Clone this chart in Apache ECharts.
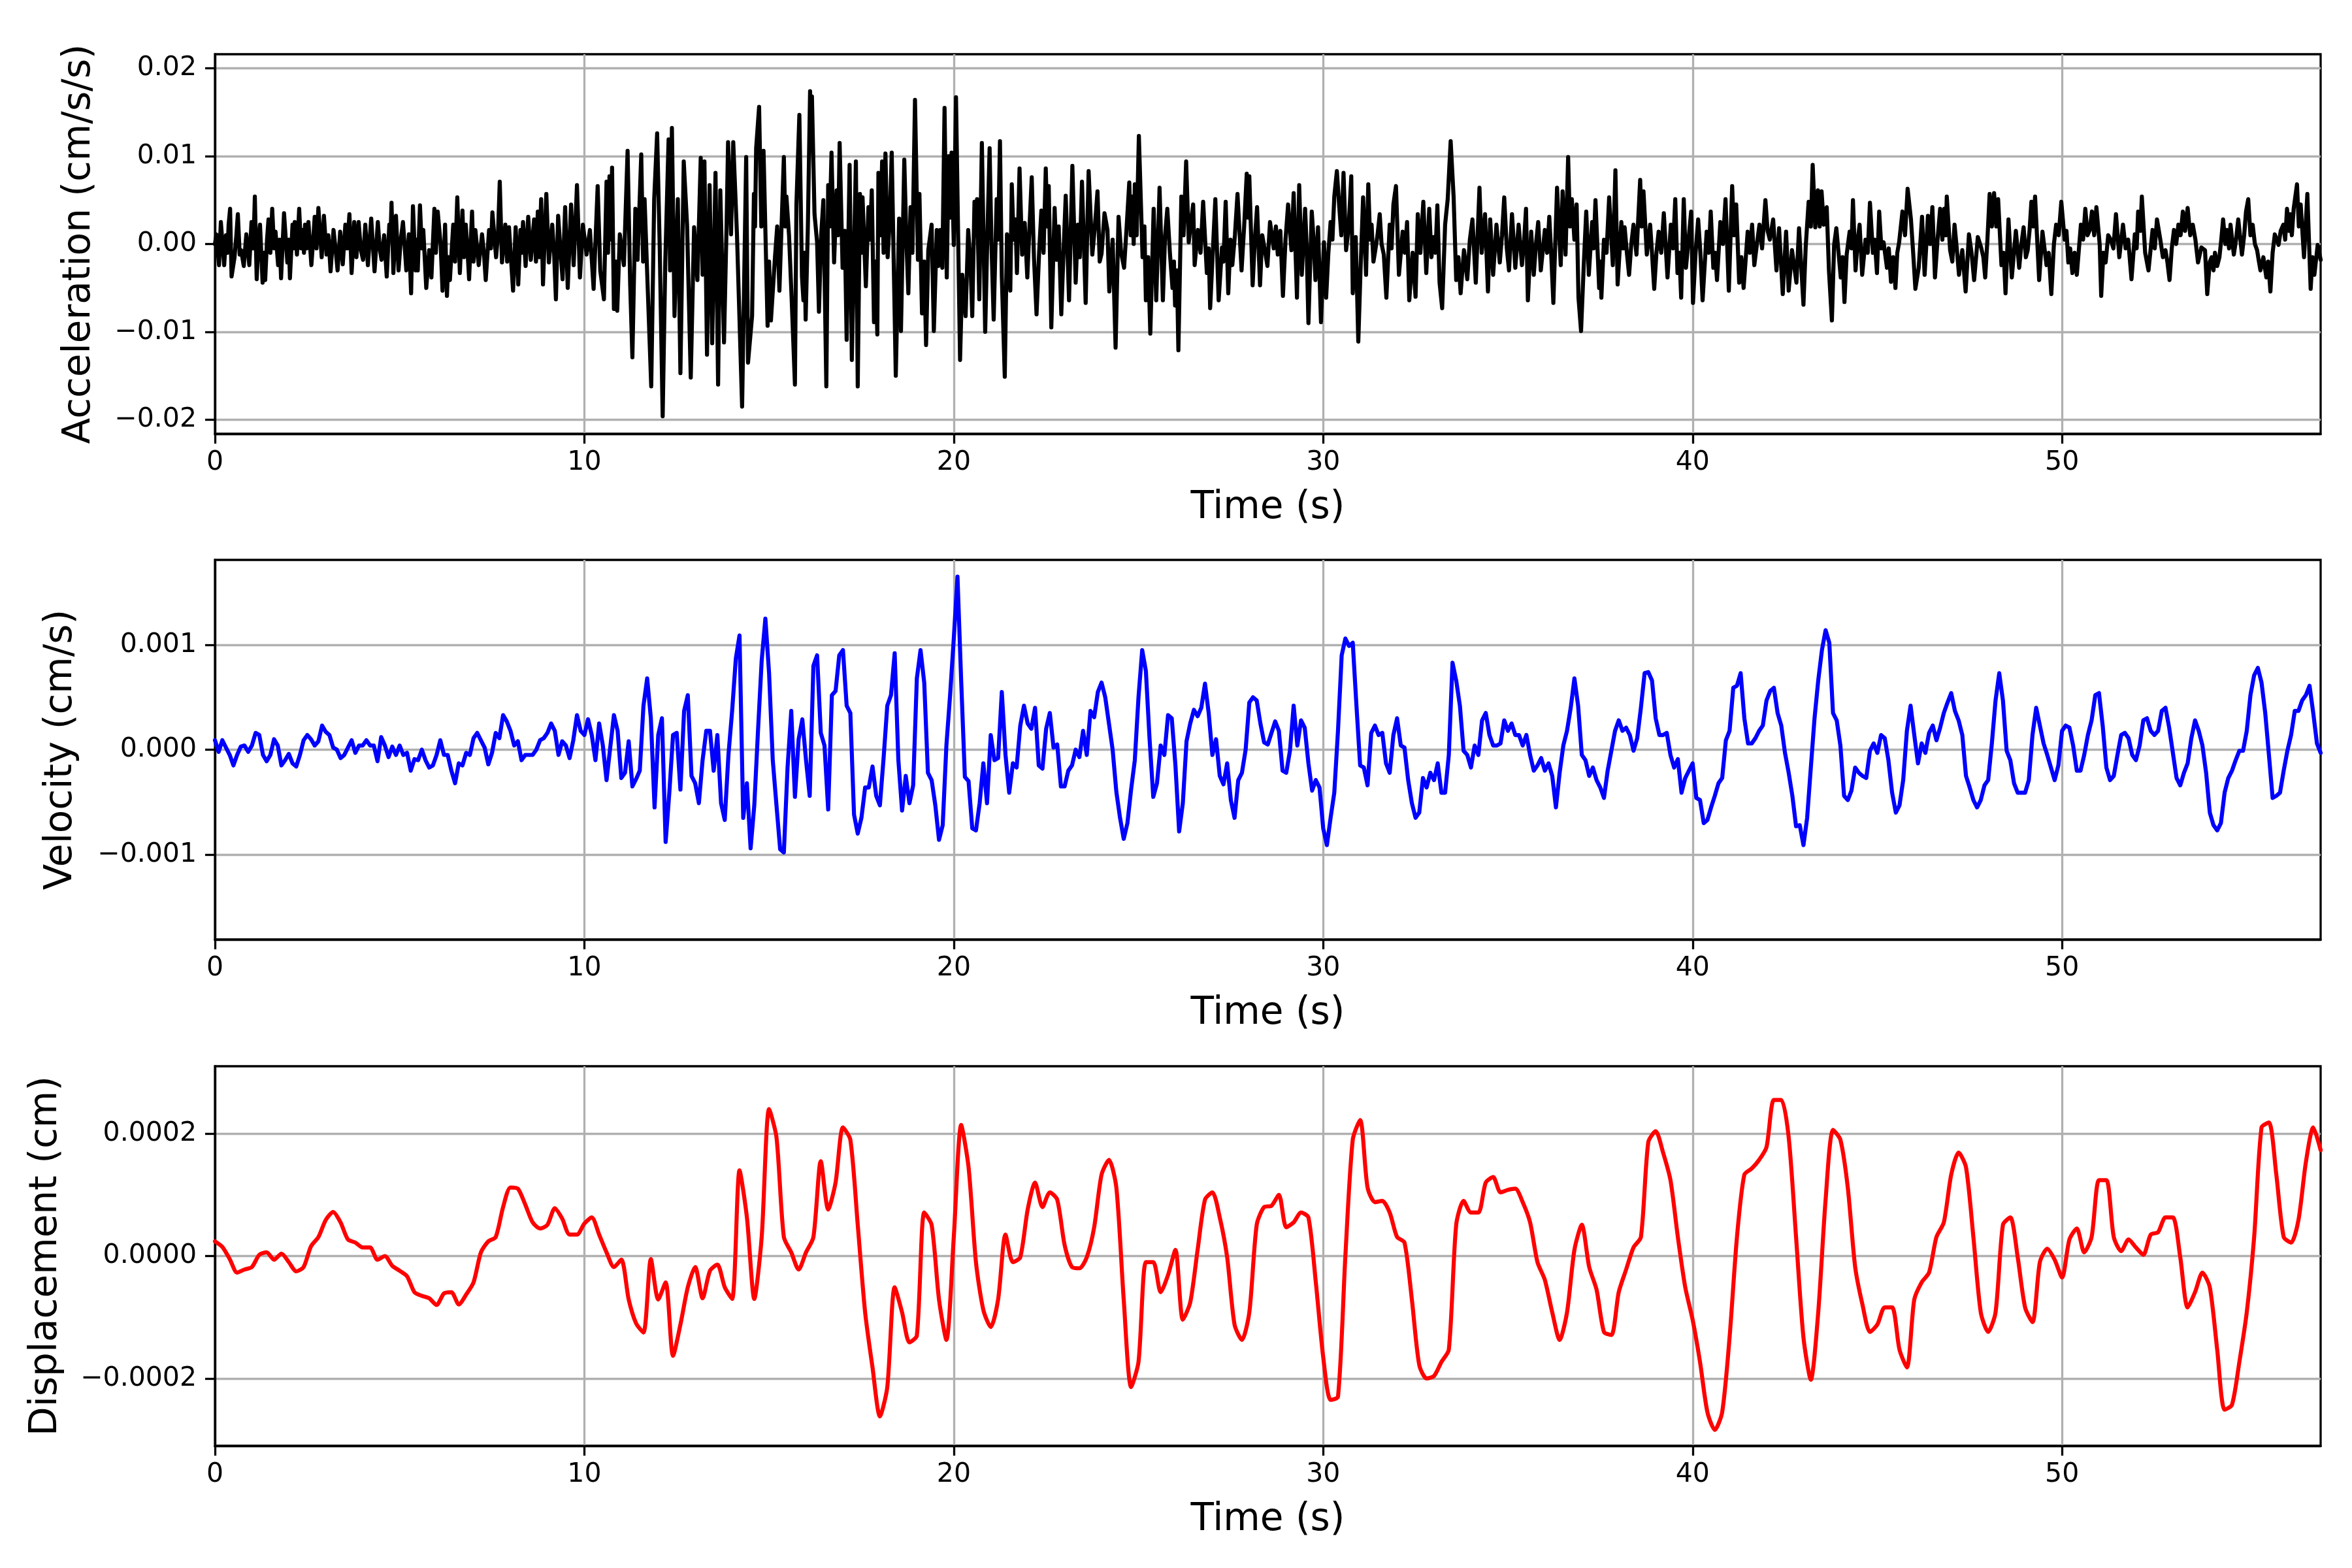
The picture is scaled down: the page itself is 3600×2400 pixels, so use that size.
<!DOCTYPE html>
<html>
<head>
<meta charset="utf-8">
<script src="https://cdn.jsdelivr.net/npm/echarts@6/dist/echarts.min.js"></script>
<style>
html,body{margin:0;padding:0;background:#fff;}
#chart{width:3600px;height:2400px;}
</style>
</head>
<body>
<div id="chart"></div>
<script>
// ---------- DATA ----------
// Units of the stored numbers:
const ACC_UNIT = 1e-3;   // acceleration values below are in 1e-3 cm/s/s
const VEL_UNIT = 1e-3;   // velocity values below are in 1e-3 cm/s
const DISP_UNIT = 1e-4;  // displacement values below are in 1e-4 cm
const VEL_DT = 0.1;      // velocity sample spacing (s)
const DISP_DT = 0.2;     // displacement sample spacing (s)

const timeTicks = [0, 10, 20, 30, 40, 50];
const accTicks = [-0.02, -0.01, 0, 0.01, 0.02];
const velTicks = [-0.001, 0, 0.001];
const dispTicks = [-0.0002, 0, 0.0002];

// acceleration: [time (s), value]
const accel = [
[0.00,0.0],[0.04,1.1],[0.11,-2.4],[0.16,2.5],[0.25,-2.4],[0.30,1.0],[0.34,-1.0],[0.37,2.2],[0.41,4.0],[0.45,-3.7],[0.53,-1.5],[0.58,1.0],[0.62,3.4],[0.67,-1.2],[0.71,-0.7],[0.78,-2.5],[0.85,1.1],[0.93,-2.4],[0.99,2.5],
[1.04,-0.5],[1.08,5.4],[1.13,-4.0],[1.18,0.5],[1.22,2.2],[1.29,-4.4],[1.33,-1.0],[1.36,-4.1],[1.41,0.5],[1.45,2.8],[1.50,-1.0],[1.55,4.0],[1.60,-0.5],[1.64,1.4],[1.71,-2.4],[1.75,0.5],[1.79,-3.9],[1.87,3.5],[1.96,-2.1],
[2.00,0.5],[2.03,-3.9],[2.10,2.2],[2.13,-0.5],[2.16,2.5],[2.22,-1.2],[2.28,4.0],[2.33,-0.5],[2.38,1.6],[2.41,-1.0],[2.44,2.2],[2.48,-0.5],[2.53,2.5],[2.61,-2.4],[2.66,0.5],[2.70,3.1],[2.75,-0.5],[2.80,4.1],[2.89,-1.5],[2.95,3.2],
[3.02,-1.2],[3.07,1.0],[3.13,-3.1],[3.21,1.6],[3.27,-0.8],[3.32,-3.0],[3.39,1.4],[3.46,-2.3],[3.53,2.2],[3.58,-0.5],[3.64,3.4],[3.70,-3.3],[3.77,2.5],[3.83,-1.5],[3.89,2.5],[3.95,-0.7],
[4.01,-1.8],[4.07,2.2],[4.14,-2.4],[4.23,2.9],[4.32,-3.1],[4.41,2.5],[4.46,-0.5],[4.51,-1.8],[4.58,1.0],[4.65,-3.7],[4.72,2.2],[4.75,0.5],[4.78,4.7],[4.83,-3.3],[4.90,3.2],[4.97,-3.0],
[5.03,0.5],[5.09,2.5],[5.14,-0.5],[5.18,-3.0],[5.25,1.1],[5.31,-5.6],[5.36,4.3],[5.43,-3.0],[5.46,0.5],[5.49,-3.0],[5.55,4.4],[5.60,-0.5],[5.64,1.6],[5.72,-5.0],[5.80,-0.7],[5.86,-3.8],[5.94,4.0],[5.98,-1.0],
[6.03,3.7],[6.11,-0.1],[6.16,-5.3],[6.23,2.2],[6.28,-5.9],[6.32,-1.5],[6.36,-4.1],[6.45,2.2],[6.50,-2.0],[6.56,5.3],[6.63,-3.3],[6.70,3.8],[6.74,-1.5],[6.79,2.2],[6.84,-1.0],[6.88,-4.0],[6.96,3.7],
[7.00,-2.0],[7.05,1.6],[7.14,-2.4],[7.23,1.1],[7.28,-1.0],[7.33,-4.1],[7.42,1.6],[7.47,-0.5],[7.51,3.6],[7.61,-1.5],[7.66,1.0],[7.71,7.1],[7.77,-2.1],[7.86,2.2],[7.91,-2.0],[7.96,1.9],
[8.02,-2.1],[8.07,-5.3],[8.14,1.9],[8.21,-4.6],[8.27,1.6],[8.30,-1.0],[8.34,2.5],[8.41,-2.5],[8.48,3.1],[8.55,-1.8],[8.64,2.8],[8.69,-2.0],[8.74,3.7],[8.78,-1.5],[8.83,5.1],[8.88,-4.6],[8.97,5.7],
[9.04,-2.1],[9.13,2.2],[9.18,-1.0],[9.23,-6.3],[9.29,3.2],[9.35,-0.5],[9.41,-4.0],[9.48,4.2],[9.55,-5.0],[9.64,4.5],[9.71,-2.4],[9.80,6.7],[9.88,-3.8],[9.96,2.2],
[10.06,-1.2],[10.15,1.6],[10.25,-5.1],[10.36,6.6],[10.43,-3.0],[10.53,-6.3],[10.60,7.1],[10.64,-1.0],[10.68,7.7],[10.72,0.5],[10.75,8.7],[10.80,-7.4],[10.85,-2.0],[10.89,-7.6],[10.96,1.1],
[11.07,-2.4],[11.17,10.6],[11.24,-4.6],[11.30,-12.9],[11.38,4.0],[11.44,-1.8],[11.54,10.2],[11.59,-2.0],[11.63,5.1],[11.72,-5.6],[11.81,-16.2],[11.89,5.1],[11.97,12.6],
[12.04,-0.4],[12.12,-19.6],[12.19,-2.1],[12.28,11.9],[12.32,-3.0],[12.37,13.2],[12.44,-8.2],[12.53,5.1],[12.60,-14.7],[12.69,9.4],[12.78,2.2],[12.88,-15.2],[12.97,1.9],
[13.06,-4.1],[13.15,9.8],[13.20,-3.5],[13.25,9.4],[13.32,-12.6],[13.39,6.7],[13.46,-11.3],[13.55,8.1],[13.62,-16.0],[13.68,6.1],[13.78,-11.2],[13.85,2.2],[13.89,11.6],[13.97,1.1],
[14.03,11.6],[14.13,1.2],[14.27,-18.5],[14.38,9.9],[14.43,-13.5],[14.54,-8.2],[14.59,5.7],[14.62,2.0],[14.65,10.9],[14.73,15.6],[14.79,2.0],[14.85,10.6],[14.96,-9.3],
[15.00,-2.0],[15.05,-8.7],[15.16,-1.5],[15.22,2.0],[15.28,-5.3],[15.40,9.9],[15.44,2.0],[15.47,5.4],[15.54,1.0],[15.61,-6.1],[15.70,-16.0],[15.74,4.5],[15.82,14.7],[15.89,-3.7],[15.93,-6.4],[15.96,-1.0],[15.99,-8.6],
[16.05,2.0],[16.11,17.4],[16.14,12.0],[16.16,16.8],[16.23,3.4],[16.30,0.2],[16.35,-7.7],[16.41,1.0],[16.47,5.0],[16.55,-16.2],[16.60,6.7],[16.64,2.0],[16.69,10.4],[16.76,-2.1],[16.83,6.1],[16.87,1.0],[16.91,11.5],[16.99,-2.7],
[17.05,1.5],[17.10,-10.9],[17.18,9.0],[17.24,-13.2],[17.35,9.4],[17.40,-16.2],[17.46,5.7],[17.50,-1.0],[17.53,5.3],[17.62,-4.8],[17.69,4.2],[17.73,0.5],[17.78,6.1],[17.84,-8.9],[17.88,-2.0],[17.93,-10.3],[17.96,8.1],
[18.01,1.0],[18.06,9.4],[18.10,-1.0],[18.15,10.3],[18.21,-1.5],[18.27,3.0],[18.32,10.4],[18.43,-15.0],[18.52,2.9],[18.57,-9.9],[18.66,9.6],[18.72,0.0],[18.77,-5.6],[18.83,4.2],[18.88,-1.0],[18.95,16.4],
[19.03,-1.8],[19.07,5.7],[19.14,-7.9],[19.20,-2.0],[19.25,-11.5],[19.31,-0.7],[19.40,2.2],[19.46,-9.9],[19.54,1.6],[19.58,-2.5],[19.63,1.6],[19.69,-2.7],[19.75,15.5],[19.81,-3.8],[19.86,10.0],[19.90,3.0],[19.94,10.4],
[20.00,-0.1],[20.06,16.7],[20.17,-13.2],[20.23,-3.5],[20.32,-8.2],[20.39,1.6],[20.45,-2.0],[20.50,-8.2],[20.56,4.8],[20.60,1.0],[20.63,5.1],[20.69,-6.3],[20.76,11.5],[20.85,-10.0],[20.91,1.0],[20.97,10.9],
[21.02,0.0],[21.08,-8.6],[21.16,5.1],[21.20,0.5],[21.25,11.7],[21.30,-3.7],[21.38,-15.1],[21.44,1.1],[21.53,-5.3],[21.57,6.8],[21.62,0.5],[21.67,2.8],[21.71,-3.3],[21.78,8.6],[21.85,-1.2],[21.92,2.4],[21.99,-3.8],
[22.05,2.0],[22.11,7.6],[22.17,-1.5],[22.24,-8.0],[22.31,-1.0],[22.37,3.8],[22.43,-1.0],[22.49,8.6],[22.53,2.0],[22.57,6.6],[22.64,-9.5],[22.73,4.1],[22.78,-1.8],[22.84,2.0],[22.91,-8.0],[22.97,-1.0],
[23.03,5.5],[23.12,-6.4],[23.21,8.9],[23.30,-4.4],[23.36,2.2],[23.41,-1.5],[23.47,7.1],[23.57,-6.7],[23.65,8.3],[23.75,-1.2],[23.82,2.0],[23.89,6.0],[23.95,-2.0],
[24.00,-1.1],[24.08,3.5],[24.16,1.6],[24.21,-5.4],[24.30,0.5],[24.38,-11.8],[24.46,3.1],[24.53,-1.0],[24.61,-2.7],[24.68,2.0],[24.75,7.0],[24.79,1.0],[24.83,5.4],[24.87,0.0],[24.90,6.8],[24.95,1.0],
[25.01,12.3],[25.11,-1.5],[25.16,2.0],[25.20,-6.4],[25.26,-1.5],[25.32,-10.2],[25.41,4.0],[25.48,-6.4],[25.57,6.4],[25.66,-6.4],[25.72,1.0],[25.78,4.0],[25.85,-1.0],[25.92,-5.0],[25.96,-2.0],[25.99,-7.0],
[26.04,-3.0],[26.08,-12.1],[26.16,5.4],[26.22,1.0],[26.29,9.4],[26.36,0.2],[26.42,2.5],[26.48,4.5],[26.52,-2.4],[26.61,1.6],[26.68,-1.0],[26.75,4.8],[26.85,-3.3],[26.90,-0.5],[26.94,-7.3],
[27.01,-1.0],[27.08,5.1],[27.17,-6.4],[27.26,-0.4],[27.30,-2.0],[27.36,4.8],[27.43,-5.6],[27.49,0.5],[27.54,-2.4],[27.61,1.0],[27.68,5.7],[27.79,-3.0],[27.86,2.0],[27.93,8.0],[27.96,3.0],
[28.00,7.7],[28.09,-4.7],[28.15,0.5],[28.21,4.2],[28.29,-4.7],[28.35,1.0],[28.42,-0.7],[28.49,-2.5],[28.56,2.5],[28.66,-0.5],[28.72,2.0],[28.77,-1.2],[28.84,1.5],[28.91,-5.9],[28.98,0.5],
[29.05,4.5],[29.14,-0.7],[29.20,5.8],[29.29,-6.1],[29.35,6.7],[29.42,-3.5],[29.51,4.0],[29.55,0.0],[29.60,-9.0],[29.69,3.7],[29.74,0.5],[29.79,-4.1],[29.86,1.9],[29.94,-8.9],
[30.02,0.2],[30.08,-6.1],[30.14,-1.0],[30.20,2.5],[30.25,0.5],[30.30,5.4],[30.37,8.3],[30.43,4.5],[30.49,1.0],[30.55,8.1],[30.62,-0.7],[30.69,2.0],[30.76,7.7],[30.80,-5.6],[30.88,0.8],[30.95,-11.1],
[31.01,-3.0],[31.08,5.3],[31.16,-3.5],[31.22,6.8],[31.27,0.5],[31.31,2.2],[31.36,-2.0],[31.41,-0.7],[31.47,1.0],[31.53,3.4],[31.58,0.0],[31.64,-1.2],[31.71,-6.1],[31.80,2.2],[31.85,-0.5],[31.90,4.5],[31.97,6.6],
[32.05,-3.5],[32.15,1.4],[32.21,-1.0],[32.27,2.5],[32.33,-6.4],[32.42,-1.0],[32.50,-6.0],[32.56,3.4],[32.63,-1.0],[32.71,4.8],[32.79,-3.3],[32.87,4.0],[32.93,-1.5],[32.99,0.8],
[33.04,-1.0],[33.09,4.4],[33.15,-4.4],[33.22,-7.3],[33.30,2.2],[33.37,5.1],[33.45,11.7],[33.53,5.4],[33.60,-4.1],[33.66,-1.5],[33.72,-5.6],[33.81,-0.7],[33.90,-4.0],[33.97,0.5],
[34.04,2.8],[34.13,-4.4],[34.23,6.4],[34.29,-1.0],[34.38,3.4],[34.46,-5.4],[34.52,2.8],[34.60,-3.5],[34.69,2.2],[34.78,-2.1],[34.84,1.0],[34.90,5.3],[34.97,-0.5],
[35.03,-3.0],[35.11,3.4],[35.20,-2.7],[35.29,2.2],[35.38,-2.4],[35.44,0.5],[35.49,4.0],[35.54,-6.4],[35.63,1.4],[35.70,-3.5],[35.76,0.0],[35.82,2.5],[35.89,-3.0],[35.95,-0.5],
[36.00,1.6],[36.06,-1.0],[36.12,3.1],[36.17,-1.0],[36.23,-6.7],[36.33,6.4],[36.43,-2.4],[36.48,6.0],[36.56,-1.2],[36.63,9.9],[36.68,2.0],[36.73,5.1],[36.80,0.5],[36.86,4.5],[36.91,-6.1],[36.98,-9.9],
[37.05,-2.7],[37.12,3.7],[37.19,-3.5],[37.28,2.5],[37.32,-0.5],[37.37,5.0],[37.47,-5.0],[37.50,-2.0],[37.53,-6.1],[37.60,0.5],[37.67,-1.0],[37.74,5.3],[37.84,-2.4],[37.91,8.4],[37.97,-4.6],
[38.07,2.5],[38.12,-0.5],[38.16,1.9],[38.22,-1.0],[38.28,-3.5],[38.34,0.0],[38.40,2.2],[38.48,-1.2],[38.58,7.3],[38.62,2.0],[38.67,6.0],[38.76,-1.2],[38.85,2.2],[38.90,-1.0],[38.96,-5.1],
[39.02,-1.0],[39.08,1.4],[39.15,-1.0],[39.22,3.5],[39.32,-3.8],[39.41,2.2],[39.47,-0.5],[39.53,5.1],[39.59,-3.3],[39.64,-1.0],[39.69,-6.1],[39.76,5.1],[39.82,-2.7],[39.89,0.5],[39.96,3.7],
[40.01,-6.7],[40.08,-1.0],[40.15,2.8],[40.21,-1.0],[40.27,-6.4],[40.38,1.4],[40.44,-1.0],[40.49,3.7],[40.56,-2.7],[40.61,-1.0],[40.66,-4.1],[40.75,2.5],[40.82,0.0],[40.89,5.1],[40.98,-5.3],
[41.07,6.6],[41.12,1.0],[41.18,4.5],[41.26,-4.4],[41.32,-1.5],[41.38,-5.0],[41.49,1.4],[41.55,-1.0],[41.61,2.2],[41.67,-2.4],[41.74,0.0],[41.81,2.2],[41.88,-0.5],[41.97,5.0],
[42.03,1.5],[42.09,0.5],[42.18,2.8],[42.27,-3.0],[42.34,1.8],[42.44,-5.7],[42.53,1.4],[42.60,-5.3],[42.69,-0.7],[42.81,-4.4],[42.88,1.8],
[43.00,-6.9],[43.06,-0.4],[43.14,4.8],[43.20,2.0],[43.25,9.0],[43.32,1.9],[43.39,6.1],[43.44,2.0],[43.49,6.0],[43.55,2.2],[43.63,4.2],[43.69,-3.0],[43.77,-8.7],[43.83,-0.1],[43.89,1.8],[43.95,-1.0],
[44.01,-3.8],[44.06,-1.5],[44.11,-6.6],[44.17,-1.2],[44.25,1.4],[44.30,-0.5],[44.34,5.0],[44.41,-3.0],[44.47,0.5],[44.52,2.2],[44.59,-3.5],[44.68,0.5],[44.74,-1.0],[44.80,4.7],[44.88,-1.0],[44.93,0.5],[44.99,-3.3],
[45.05,3.7],[45.11,-0.5],[45.17,0.2],[45.26,-2.7],[45.31,-0.5],[45.37,-4.3],[45.43,-1.5],[45.49,-5.0],[45.54,-1.0],[45.59,0.2],[45.68,3.7],[45.75,1.0],[45.82,6.3],[45.91,2.8],[45.97,-1.0],
[46.03,-5.1],[46.12,-2.7],[46.21,3.1],[46.28,-3.5],[46.37,3.2],[46.43,0.0],[46.49,4.2],[46.56,-3.8],[46.63,0.5],[46.70,4.0],[46.76,0.5],[46.81,4.0],[46.85,1.0],[46.88,5.4],[46.97,-0.7],
[47.03,-2.0],[47.09,2.2],[47.15,-0.5],[47.21,-3.5],[47.30,-0.7],[47.39,-5.4],[47.48,1.1],[47.55,-1.0],[47.62,-4.1],[47.72,0.8],[47.81,-0.4],[47.87,-1.5],[47.92,-3.8],[47.98,0.5],
[48.04,5.7],[48.10,2.0],[48.16,5.8],[48.22,2.0],[48.27,5.1],[48.36,-2.4],[48.42,-1.0],[48.47,-5.6],[48.55,2.8],[48.64,-3.8],[48.75,1.5],[48.84,-2.7],[48.90,0.0],[48.96,1.9],
[49.02,-1.5],[49.07,-0.7],[49.12,1.5],[49.17,4.8],[49.22,2.0],[49.27,5.4],[49.38,-4.1],[49.47,1.4],[49.58,-2.4],[49.64,-1.0],[49.71,-5.7],[49.78,0.0],[49.84,2.2],[49.91,1.0],[49.98,4.8],
[50.07,0.5],[50.12,1.5],[50.17,-2.1],[50.22,-0.5],[50.28,-3.3],[50.34,-1.0],[50.40,-3.5],[50.51,2.2],[50.57,0.5],[50.63,4.0],[50.69,1.0],[50.75,1.6],[50.81,3.7],[50.87,1.0],[50.93,4.2],
[51.02,-0.1],[51.06,-5.9],[51.12,-1.0],[51.18,-2.1],[51.25,1.0],[51.32,0.5],[51.39,-0.5],[51.46,3.4],[51.55,-1.5],[51.65,2.2],[51.72,-0.5],[51.79,0.5],[51.88,-4.0],[51.97,1.1],
[52.02,-0.5],[52.06,3.7],[52.12,1.5],[52.16,5.4],[52.25,-1.0],[52.34,-3.0],[52.40,-0.5],[52.45,1.6],[52.51,-0.5],[52.57,2.8],[52.66,0.5],[52.73,-1.5],[52.80,-0.7],[52.85,-2.0],[52.91,-4.1],[52.97,-0.5],
[53.03,1.6],[53.09,0.0],[53.15,2.2],[53.21,1.0],[53.27,3.7],[53.33,1.5],[53.40,4.1],[53.47,1.0],[53.54,2.2],[53.61,0.5],[53.68,-2.1],[53.77,-0.4],[53.87,-0.7],[53.93,-5.7],
[54.00,-2.0],[54.05,-1.5],[54.10,-3.0],[54.14,-1.0],[54.20,-2.5],[54.26,-1.5],[54.31,0.5],[54.36,2.8],[54.42,0.0],[54.47,1.6],[54.52,-0.5],[54.56,2.2],[54.65,-1.2],[54.71,0.5],[54.77,2.8],[54.87,-1.2],[54.93,1.0],[54.98,3.7],
[55.04,5.1],[55.10,1.0],[55.16,2.2],[55.22,0.0],[55.28,-0.7],[55.33,-2.0],[55.37,-3.0],[55.45,-1.5],[55.53,-3.8],[55.58,-2.0],[55.64,-5.4],[55.70,-1.0],[55.76,1.1],[55.86,-0.1],[55.92,1.5],[55.99,2.2],
[56.04,0.5],[56.09,4.0],[56.14,1.5],[56.18,3.4],[56.22,1.0],[56.27,4.0],[56.36,6.8],[56.41,2.0],[56.46,4.5],[56.55,-1.5],[56.64,5.7],[56.73,-5.1],[56.78,-1.5],[56.83,-3.5],[56.92,-0.1],[57.00,-1.8]
];

// velocity, one value every VEL_DT seconds from t = 0 (one row per second)
const velocity = [
0.09,-0.02,0.09,0.02,-0.05,-0.15,-0.05,0.03,0.04,-0.02,
0.04,0.16,0.14,-0.05,-0.11,-0.05,0.10,0.04,-0.15,-0.10,
-0.04,-0.13,-0.16,-0.05,0.09,0.14,0.10,0.04,0.08,0.23,
0.17,0.14,0.02,0.00,-0.08,-0.05,0.02,0.09,-0.03,0.04,
0.04,0.09,0.04,0.04,-0.11,0.12,0.04,-0.07,0.03,-0.05,
0.04,-0.05,-0.03,-0.20,-0.09,-0.10,0.00,-0.10,-0.17,-0.15,
-0.05,0.09,-0.05,-0.05,-0.20,-0.32,-0.13,-0.15,-0.03,-0.05,
0.11,0.16,0.09,0.02,-0.14,-0.03,0.16,0.11,0.33,0.27,
0.18,0.04,0.08,-0.10,-0.05,-0.05,-0.05,0.00,0.09,0.11,
0.16,0.25,0.18,-0.05,0.08,0.04,-0.08,0.09,0.33,0.18,
0.14,0.29,0.14,-0.10,0.25,0.04,-0.29,0.02,0.33,0.18,
-0.27,-0.22,0.08,-0.35,-0.28,-0.20,0.42,0.68,0.30,-0.55,
0.14,0.30,-0.88,-0.41,0.14,0.16,-0.38,0.37,0.52,-0.25,
-0.32,-0.51,-0.10,0.18,0.18,-0.20,0.14,-0.51,-0.67,-0.05,
0.37,0.87,1.09,-0.65,-0.32,-0.94,-0.53,0.18,0.85,1.25,
0.73,-0.10,-0.53,-0.95,-0.98,-0.17,0.37,-0.45,0.10,0.29,
-0.10,-0.44,0.80,0.90,0.16,0.04,-0.57,0.52,0.56,0.90,
0.95,0.42,0.35,-0.62,-0.80,-0.65,-0.36,-0.36,-0.16,-0.44,
-0.53,-0.08,0.42,0.52,0.92,-0.10,-0.58,-0.25,-0.51,-0.34,
0.68,0.95,0.64,-0.22,-0.29,-0.53,-0.86,-0.72,0.04,0.52,
1.06,1.65,0.66,-0.26,-0.30,-0.75,-0.77,-0.51,-0.13,-0.51,
0.14,-0.10,-0.08,0.55,-0.05,-0.41,-0.13,-0.17,0.23,0.42,
0.25,0.20,0.40,-0.15,-0.18,0.20,0.35,0.02,0.05,-0.35,
-0.35,-0.20,-0.15,0.00,-0.07,0.18,-0.05,0.37,0.31,0.55,
0.64,0.50,0.25,0.00,-0.40,-0.65,-0.85,-0.70,-0.38,-0.10,
0.50,0.95,0.75,0.10,-0.45,-0.32,0.04,-0.05,0.33,0.30,
-0.15,-0.78,-0.51,0.08,0.25,0.38,0.32,0.40,0.63,0.35,
-0.05,0.10,-0.25,-0.33,-0.13,-0.48,-0.65,-0.29,-0.22,0.00,
0.45,0.50,0.47,0.25,0.07,0.05,0.16,0.27,0.18,-0.20,
-0.22,-0.01,0.42,0.04,0.28,0.21,-0.13,-0.39,-0.29,-0.36,
-0.75,-0.91,-0.65,-0.41,0.18,0.90,1.06,0.99,1.02,0.42,
-0.15,-0.17,-0.34,0.16,0.23,0.14,0.16,-0.13,-0.22,0.14,
0.30,0.04,0.02,-0.29,-0.51,-0.65,-0.60,-0.27,-0.36,-0.22,
-0.29,-0.13,-0.41,-0.41,-0.05,0.83,0.66,0.42,-0.01,-0.05,
-0.17,0.04,-0.05,0.28,0.35,0.14,0.04,0.04,0.06,0.28,
0.18,0.25,0.14,0.14,0.04,0.14,-0.05,-0.20,-0.15,-0.08,
-0.20,-0.13,-0.25,-0.55,-0.22,0.04,0.18,0.40,0.68,0.42,
-0.05,-0.10,-0.25,-0.17,-0.29,-0.36,-0.46,-0.20,-0.01,0.18,
0.28,0.18,0.21,0.14,-0.01,0.11,0.40,0.73,0.74,0.66,
0.30,0.14,0.14,0.16,-0.05,-0.17,-0.09,-0.41,-0.27,-0.20,
-0.13,-0.46,-0.48,-0.70,-0.67,-0.55,-0.44,-0.32,-0.27,0.09,
0.18,0.59,0.61,0.73,0.30,0.06,0.06,0.11,0.18,0.23,
0.47,0.56,0.59,0.35,0.23,-0.03,-0.22,-0.44,-0.73,-0.72,
-0.91,-0.65,-0.17,0.30,0.66,0.95,1.14,1.02,0.35,0.28,
0.04,-0.44,-0.48,-0.39,-0.17,-0.22,-0.25,-0.27,-0.01,0.06,
-0.03,0.14,0.11,-0.10,-0.41,-0.60,-0.53,-0.29,0.18,0.42,
0.14,-0.13,0.06,-0.03,0.16,0.23,0.09,0.21,0.35,0.45,
0.54,0.37,0.28,0.14,-0.25,-0.36,-0.48,-0.55,-0.48,-0.34,
-0.29,0.06,0.47,0.73,0.47,-0.01,-0.10,-0.32,-0.41,-0.41,
-0.41,-0.29,0.14,0.40,0.23,0.06,-0.05,-0.17,-0.29,-0.15,
0.18,0.23,0.21,0.04,-0.20,-0.20,-0.05,0.14,0.28,0.52,
0.54,0.23,-0.17,-0.29,-0.25,-0.05,0.14,0.16,0.11,-0.05,
-0.10,0.04,0.28,0.30,0.18,0.14,0.18,0.37,0.40,0.21,
-0.03,-0.27,-0.34,-0.22,-0.13,0.11,0.28,0.18,0.04,-0.22,
-0.60,-0.72,-0.77,-0.70,-0.41,-0.27,-0.20,-0.10,-0.01,-0.01,
0.18,0.52,0.71,0.78,0.64,0.35,-0.05,-0.46,-0.44,-0.41,
-0.20,-0.01,0.14,0.37,0.37,0.47,0.52,0.61,0.35,0.06,
-0.03
];

// displacement, one value every DISP_DT seconds from t = 0 (one row per second)
const displacement = [
0.24,0.15,-0.05,-0.27,-0.22,
-0.18,0.02,0.06,-0.06,0.04,
-0.10,-0.25,-0.18,0.16,0.31,
0.59,0.72,0.55,0.27,0.22,
0.14,0.14,-0.06,0.00,-0.16,
-0.24,-0.33,-0.59,-0.65,-0.69,
-0.80,-0.61,-0.59,-0.79,-0.63,
-0.43,0.06,0.24,0.31,0.80,
1.12,1.10,0.84,0.55,0.45,
0.51,0.78,0.61,0.35,0.35,
0.53,0.63,0.35,0.06,-0.18,
-0.06,-0.71,-1.10,-1.25,-0.05,
-0.71,-0.43,-1.63,-1.12,-0.51,
-0.18,-0.69,-0.24,-0.14,-0.51,
-0.70,1.40,0.63,-0.70,0.31,
2.40,1.94,0.31,0.06,-0.22,
0.06,0.31,1.55,0.76,1.20,
2.10,1.90,0.51,-0.92,-1.82,
-2.62,-2.14,-0.51,-0.92,-1.41,
-1.30,0.71,0.51,-0.71,-1.37,
0.31,2.14,1.45,-0.10,-0.88,
-1.16,-0.71,0.35,-0.10,-0.02,
0.76,1.20,0.80,1.04,0.92,
0.18,-0.18,-0.20,-0.02,0.47,
1.33,1.57,1.12,-0.71,-2.14,
-1.73,-0.10,-0.10,-0.59,-0.31,
0.10,-1.04,-0.76,0.10,0.92,
1.04,0.63,-0.02,-1.12,-1.37,
-0.92,0.51,0.80,0.82,1.00,
0.47,0.55,0.71,0.63,-0.43,
-1.65,-2.35,-2.30,0.00,1.90,
2.22,1.12,0.88,0.90,0.71,
0.31,0.22,-0.71,-1.78,-2.00,
-1.96,-1.73,-1.53,0.51,0.90,
0.71,0.71,1.20,1.29,1.04,
1.08,1.10,0.88,0.55,-0.10,
-0.39,-0.92,-1.37,-0.92,0.10,
0.51,-0.18,-0.55,-1.24,-1.29,
-0.59,-0.22,0.14,0.31,1.86,
2.04,1.69,1.24,0.31,-0.51,
-1.04,-1.73,-2.55,-2.84,-2.55,
-1.33,0.31,1.33,1.43,1.57,
1.78,2.55,2.55,1.94,0.31,
-1.33,-2.02,-0.92,0.92,2.06,
1.90,1.12,-0.18,-0.80,-1.24,
-1.12,-0.84,-0.84,-1.53,-1.82,
-0.71,-0.43,-0.27,0.31,0.55,
1.33,1.69,1.45,0.31,-0.92,
-1.24,-0.92,0.51,0.63,-0.02,
-0.84,-1.08,-0.10,0.12,-0.06,
-0.35,0.27,0.45,0.06,0.31,
1.24,1.24,0.31,0.08,0.27,
0.14,0.02,0.35,0.39,0.63,
0.63,-0.02,-0.84,-0.59,-0.27,
-0.51,-1.53,-2.51,-2.43,-1.73,
-0.92,0.31,2.10,2.18,1.33,
0.31,0.22,0.59,1.53,2.10,
1.73
];

// ---------- CHART ----------
const FONT = 'DejaVu Sans';
const MINUS = '\u2212';
function fmt(d) {
  return function (v) {
    const s = Math.abs(v).toFixed(d);
    return (v < -1e-12 ? MINUS : '') + s;
  };
}

const panels = [
  { top: 83, yMin: -0.0216, yMax: 0.0216, ticks: accTicks, dec: 2, name: 'Acceleration (cm/s/s)', gap: 178, color: '#000000',
    data: accel.map(p => [p[0], p[1] * ACC_UNIT]) },
  { top: 857, yMin: -0.00181, yMax: 0.00181, ticks: velTicks, dec: 3, name: 'Velocity (cm/s)', gap: 206, color: '#0000ff',
    data: velocity.map((v, i) => [Math.round(i * VEL_DT * 100) / 100, v * VEL_UNIT]) },
  { top: 1632, yMin: -0.00031, yMax: 0.00031, ticks: dispTicks, dec: 4, name: 'Displacement (cm)', gap: 229, color: '#ff0000', smooth: 0.25,
    data: displacement.map((v, i) => [Math.round(i * DISP_DT * 100) / 100, v * DISP_UNIT]) }
];

const axisLineStyle = { color: '#000', width: 3.3 };
const gridLineStyle = { color: '#b0b0b0', width: 3.3 };

const option = {
  backgroundColor: '#ffffff',
  animation: false,
  grid: panels.map(p => ({
    left: 329, right: 48, top: p.top, height: 581,
    show: true, borderColor: '#000', borderWidth: 3.3, backgroundColor: 'transparent'
  })),
  xAxis: panels.map((p, i) => ({
    type: 'value', gridIndex: i, min: 0, max: 57.0, interval: 10,
    name: 'Time (s)', nameLocation: 'middle', nameGap: 85,
    nameTextStyle: { fontSize: 58, color: '#000', fontFamily: FONT },
    axisLine: { show: true, onZero: false, lineStyle: axisLineStyle },
    axisTick: { show: true, length: 15, lineStyle: axisLineStyle, customValues: timeTicks },
    axisLabel: { fontSize: 41, color: '#000', fontFamily: FONT, margin: 24, customValues: timeTicks,
                 formatter: v => String(v) },
    splitLine: { show: true, lineStyle: gridLineStyle }
  })),
  yAxis: panels.map((p, i) => ({
    type: 'value', gridIndex: i, min: p.yMin, max: p.yMax,
    name: p.name, nameLocation: 'middle', nameRotate: 90, nameGap: p.gap,
    nameTextStyle: { fontSize: 58, color: '#000', fontFamily: FONT },
    axisLine: { show: true, onZero: false, lineStyle: axisLineStyle },
    axisTick: { show: true, length: 15, lineStyle: axisLineStyle, customValues: p.ticks },
    axisLabel: { fontSize: 41, color: '#000', fontFamily: FONT, margin: 28, customValues: p.ticks,
                 formatter: fmt(p.dec) },
    splitLine: { show: true, lineStyle: gridLineStyle }
  })),
  series: panels.map((p, i) => ({
    type: 'line', xAxisIndex: i, yAxisIndex: i, data: p.data,
    showSymbol: false, symbol: 'none', smooth: p.smooth || false, silent: true,
    lineStyle: { color: p.color, width: 6.2, join: 'round', cap: 'round' }, z: 3
  }))
};

const chart = echarts.init(document.getElementById('chart'), null, { renderer: 'canvas', width: 3600, height: 2400 });
chart.setOption(option);
</script>
</body>
</html>
